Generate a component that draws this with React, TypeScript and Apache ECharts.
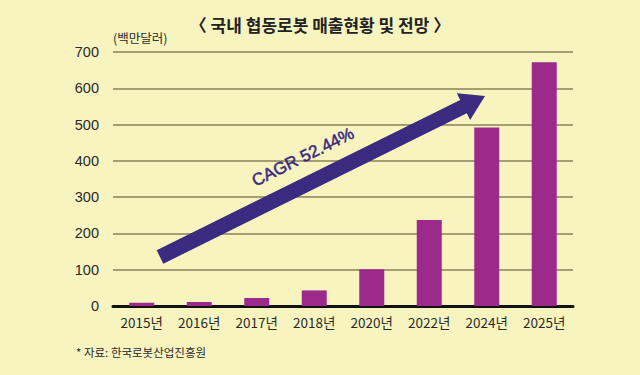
import React, { useEffect, useRef } from "react";
import * as echarts from "echarts";

const categories = ["2015년", "2016년", "2017년", "2018년", "2020년", "2022년", "2024년", "2025년"];
const sales = [9, 11, 22, 43, 101, 237, 492, 672];
const yTicks = [0, 100, 200, 300, 400, 500, 600, 700];

const title = "〈 국내 협동로봇 매출현황 및 전망 〉";
const unitLabel = "(백만달러)";
const sourceLabel = "* 자료: 한국로봇산업진흥원";
const cagrLabel = "CAGR 52.44%";

const FONT = "'Liberation Sans', 'Noto Sans CJK KR', sans-serif";
const KFONT = "'Noto Sans CJK KR', 'Liberation Sans', sans-serif";

function arrowPoints(ax: number, ay: number, tx: number, ty: number, hw: number, headHw: number, headLen: number) {
  const dx = tx - ax;
  const dy = ty - ay;
  const len = Math.sqrt(dx * dx + dy * dy);
  const ux = dx / len;
  const uy = dy / len;
  const nx = -uy;
  const ny = ux;
  const hx = tx - ux * headLen;
  const hy = ty - uy * headLen;
  return [
    [ax + nx * hw, ay + ny * hw],
    [hx + nx * hw, hy + ny * hw],
    [hx + nx * headHw, hy + ny * headHw],
    [tx, ty],
    [hx - nx * headHw, hy - ny * headHw],
    [hx - nx * hw, hy - ny * hw],
    [ax - nx * hw, ay - ny * hw],
  ];
}

export default function App() {
  const ref = useRef<HTMLDivElement>(null);
  useEffect(() => {
    if (!ref.current) return;
    const chart = echarts.init(ref.current, undefined, { renderer: "svg" });
    const pts = arrowPoints(160, 257, 485, 96, 7.5, 15, 24);
    const angle = Math.atan2(257 - 96, 485 - 160);
    chart.setOption({
      animation: false,
      backgroundColor: "#f8f4bf",
      grid: { left: 113, right: 67, top: 52, bottom: 69, containLabel: false },
      xAxis: {
        type: "category",
        data: categories,
        axisLine: { show: true, lineStyle: { color: "#111", width: 3 } },
        axisTick: { show: false },
        axisLabel: { color: "#2a2a2a", fontSize: 13.5, fontFamily: KFONT, margin: 9 },
      },
      yAxis: {
        type: "value",
        min: 0,
        max: 700,
        interval: 100,
        axisLine: { show: false },
        axisTick: { show: false },
        axisLabel: {
          color: "#2a2a2a",
          fontSize: 14.5,
          fontFamily: FONT,
          margin: 14,
          formatter: (v: number) => (yTicks.includes(v) ? String(v) : ""),
        },
        splitLine: { show: true, lineStyle: { color: "#8a8256", width: 1.5 } },
      },
      series: [
        {
          type: "bar",
          data: sales,
          barWidth: 25,
          itemStyle: { color: "#9b2a8b" },
          z: 2,
        },
      ],
      graphic: [
        {
          type: "text",
          left: "center",
          top: 16,
          style: { text: title, fontSize: 17, fontWeight: "bold", fill: "#222", fontFamily: KFONT },
        },
        {
          type: "text",
          left: 113,
          top: 31,
          style: { text: unitLabel, fontSize: 12.5, fill: "#2a2a2a", fontFamily: KFONT },
        },
        {
          type: "text",
          left: 76,
          top: 346,
          style: { text: sourceLabel, fontSize: 11.5, fill: "#2a2a2a", fontFamily: KFONT },
        },
        {
          type: "polygon",
          shape: { points: pts },
          style: { fill: "#3a2a80" },
          z: 10,
        },
        {
          type: "text",
          x: 303,
          y: 157,
          rotation: angle,
          z: 10,
          style: {
            text: cagrLabel,
            fontSize: 17,
            fontWeight: "normal",
            fill: "#3a2a80",
            stroke: "#3a2a80",
            lineWidth: 0.5,
            fontFamily: FONT,
            align: "center",
            verticalAlign: "middle",
          },
        },
      ],
    });
    return () => chart.dispose();
  }, []);
  return <div ref={ref} style={{ position: "fixed", left: 0, top: 0, width: 640, height: 375 }} />;
}
